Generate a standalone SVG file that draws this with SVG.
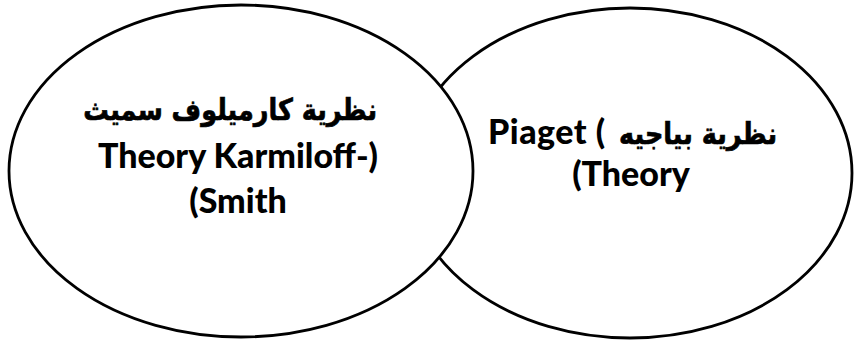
<svg xmlns="http://www.w3.org/2000/svg" width="854" height="341" viewBox="0 0 854 341">
<style>
.shape{fill:#fff;stroke:#000;stroke-width:2.8}
.en{font-family:Lato,"Liberation Sans",sans-serif;font-weight:900;font-size:34px;fill:#000}
.ar{font-family:"DejaVu Sans","Noto Sans",sans-serif;font-weight:bold;font-size:30px;fill:#000;stroke:#000;stroke-width:0.7}
</style>
<rect width="854" height="341" fill="#fff"/>
<g id="piaget">
<ellipse class="shape" cx="630" cy="173" rx="222" ry="165"/>
<text class="en" x="488" y="144" letter-spacing="0.5">Piaget (</text>
<text class="ar" transform="translate(777,144) scale(0.85,1)" x="0" y="0" text-anchor="end">نظرية بياجيه</text>
<text class="en" x="631" y="186" text-anchor="middle">(Theory</text>
</g>
<g id="karmiloff">
<ellipse class="shape" cx="241" cy="171" rx="232" ry="166"/>
<text class="ar" transform="translate(377,120) scale(0.85,1)" x="0" y="0" text-anchor="end">نظرية كارميلوف سميث</text>
<text class="en" x="238" y="168" text-anchor="middle">Theory Karmiloff-)</text>
<text class="en" x="238" y="213" text-anchor="middle">(Smith</text>
</g>
<g id="connectors"></g>
</svg>
